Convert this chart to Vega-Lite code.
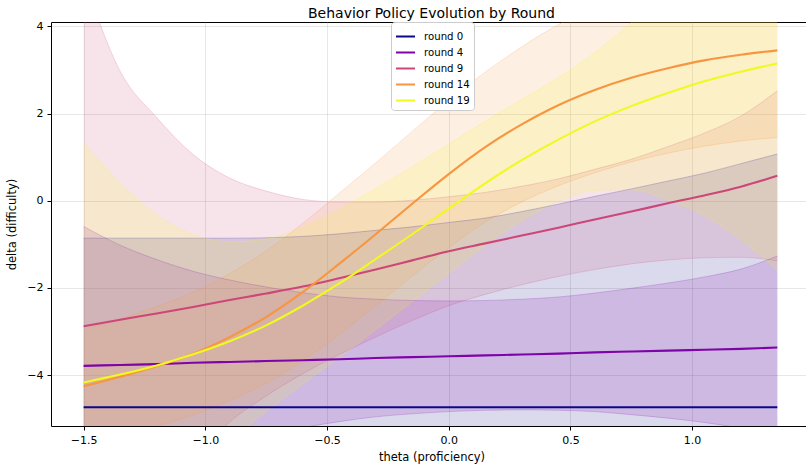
{
"$schema": "https://vega.github.io/schema/vega-lite/v6.json",
"width": 761, "height": 404,
"autosize": {"type": "none"},
"padding": {"left": 51, "top": 22, "right": 0, "bottom": 42},
"title": {"text": "Behavior Policy Evolution by Round", "fontSize": 14, "font": "DejaVu Sans", "fontWeight": "normal", "color": "black", "offset": -1, "anchor": "middle"},
"config": {
  "view": {"stroke": "black", "strokeWidth": 1},
  "font": "DejaVu Sans",
  "axis": {"labelFont": "DejaVu Sans", "titleFont": "DejaVu Sans", "labelFontSize": 11, "titleFontSize": 11.5, "titleFontWeight": "normal", "labelColor": "black", "titleColor": "black", "tickColor": "black", "tickSize": 4, "labelPadding": 4, "domain": false, "grid": true, "gridColor": "#b0b0b0", "gridOpacity": 0.3, "gridWidth": 1}
},
"data": {"values": [
{"theta":-1.5,"round":"round 0","mean":-4.74,"lo":-8.62,"hi":-0.86},
{"theta":-1.35,"round":"round 0","mean":-4.74,"lo":-8.62,"hi":-0.86},
{"theta":-1.2,"round":"round 0","mean":-4.74,"lo":-8.62,"hi":-0.86},
{"theta":-1.05,"round":"round 0","mean":-4.74,"lo":-8.62,"hi":-0.86},
{"theta":-0.9,"round":"round 0","mean":-4.74,"lo":-8.62,"hi":-0.86},
{"theta":-0.75,"round":"round 0","mean":-4.74,"lo":-8.63,"hi":-0.85},
{"theta":-0.6,"round":"round 0","mean":-4.74,"lo":-8.66,"hi":-0.82},
{"theta":-0.45,"round":"round 0","mean":-4.74,"lo":-8.72,"hi":-0.76},
{"theta":-0.3,"round":"round 0","mean":-4.74,"lo":-8.80,"hi":-0.68},
{"theta":-0.15,"round":"round 0","mean":-4.74,"lo":-8.88,"hi":-0.60},
{"theta":0,"round":"round 0","mean":-4.74,"lo":-8.98,"hi":-0.50},
{"theta":0.15,"round":"round 0","mean":-4.74,"lo":-9.08,"hi":-0.40},
{"theta":0.3,"round":"round 0","mean":-4.74,"lo":-9.23,"hi":-0.25},
{"theta":0.45,"round":"round 0","mean":-4.74,"lo":-9.40,"hi":-0.08},
{"theta":0.6,"round":"round 0","mean":-4.74,"lo":-9.58,"hi":0.10},
{"theta":0.75,"round":"round 0","mean":-4.74,"lo":-9.75,"hi":0.27},
{"theta":0.9,"round":"round 0","mean":-4.74,"lo":-9.93,"hi":0.45},
{"theta":1.05,"round":"round 0","mean":-4.74,"lo":-10.11,"hi":0.63},
{"theta":1.2,"round":"round 0","mean":-4.74,"lo":-10.33,"hi":0.85},
{"theta":1.35,"round":"round 0","mean":-4.74,"lo":-10.55,"hi":1.07},

{"theta":-1.5,"round":"round 4","mean":-3.79,"lo":-6.99,"hi":-0.59},
{"theta":-1.35,"round":"round 4","mean":-3.77,"lo":-6.52,"hi":-1.02},
{"theta":-1.2,"round":"round 4","mean":-3.75,"lo":-6.15,"hi":-1.35},
{"theta":-1.05,"round":"round 4","mean":-3.72,"lo":-5.82,"hi":-1.62},
{"theta":-0.9,"round":"round 4","mean":-3.70,"lo":-5.58,"hi":-1.82},
{"theta":-0.75,"round":"round 4","mean":-3.68,"lo":-5.38,"hi":-1.98},
{"theta":-0.6,"round":"round 4","mean":-3.66,"lo":-5.21,"hi":-2.11},
{"theta":-0.45,"round":"round 4","mean":-3.64,"lo":-5.07,"hi":-2.21},
{"theta":-0.3,"round":"round 4","mean":-3.61,"lo":-4.96,"hi":-2.26},
{"theta":-0.15,"round":"round 4","mean":-3.59,"lo":-4.89,"hi":-2.29},
{"theta":0,"round":"round 4","mean":-3.57,"lo":-4.84,"hi":-2.30},
{"theta":0.15,"round":"round 4","mean":-3.55,"lo":-4.81,"hi":-2.29},
{"theta":0.3,"round":"round 4","mean":-3.53,"lo":-4.80,"hi":-2.26},
{"theta":0.45,"round":"round 4","mean":-3.51,"lo":-4.81,"hi":-2.21},
{"theta":0.6,"round":"round 4","mean":-3.48,"lo":-4.84,"hi":-2.12},
{"theta":0.75,"round":"round 4","mean":-3.46,"lo":-4.91,"hi":-2.01},
{"theta":0.9,"round":"round 4","mean":-3.44,"lo":-4.99,"hi":-1.89},
{"theta":1.05,"round":"round 4","mean":-3.42,"lo":-5.09,"hi":-1.75},
{"theta":1.2,"round":"round 4","mean":-3.40,"lo":-5.23,"hi":-1.57},
{"theta":1.35,"round":"round 4","mean":-3.37,"lo":-5.47,"hi":-1.27},

{"theta":-1.5,"round":"round 9","mean":-2.88,"lo":-10.88,"hi":5.12},
{"theta":-1.35,"round":"round 9","mean":-2.73,"lo":-8.43,"hi":2.97},
{"theta":-1.2,"round":"round 9","mean":-2.59,"lo":-7.09,"hi":1.91},
{"theta":-1.05,"round":"round 9","mean":-2.44,"lo":-5.94,"hi":1.06},
{"theta":-0.9,"round":"round 9","mean":-2.28,"lo":-5.08,"hi":0.52},
{"theta":-0.75,"round":"round 9","mean":-2.13,"lo":-4.48,"hi":0.22},
{"theta":-0.6,"round":"round 9","mean":-1.97,"lo":-3.97,"hi":0.03},
{"theta":-0.45,"round":"round 9","mean":-1.78,"lo":-3.53,"hi":-0.03},
{"theta":-0.3,"round":"round 9","mean":-1.58,"lo":-3.13,"hi":-0.03},
{"theta":-0.15,"round":"round 9","mean":-1.37,"lo":-2.75,"hi":0.01},
{"theta":0,"round":"round 9","mean":-1.16,"lo":-2.41,"hi":0.09},
{"theta":0.15,"round":"round 9","mean":-0.98,"lo":-2.15,"hi":0.19},
{"theta":0.3,"round":"round 9","mean":-0.80,"lo":-1.93,"hi":0.33},
{"theta":0.45,"round":"round 9","mean":-0.62,"lo":-1.74,"hi":0.50},
{"theta":0.6,"round":"round 9","mean":-0.43,"lo":-1.58,"hi":0.72},
{"theta":0.75,"round":"round 9","mean":-0.25,"lo":-1.45,"hi":0.95},
{"theta":0.9,"round":"round 9","mean":-0.06,"lo":-1.36,"hi":1.24},
{"theta":1.05,"round":"round 9","mean":0.12,"lo":-1.31,"hi":1.55},
{"theta":1.2,"round":"round 9","mean":0.32,"lo":-1.30,"hi":1.94},
{"theta":1.35,"round":"round 9","mean":0.57,"lo":-1.38,"hi":2.52},

{"theta":-1.5,"round":"round 14","mean":-4.26,"lo":-5.56,"hi":-2.96},
{"theta":-1.35,"round":"round 14","mean":-4.04,"lo":-5.37,"hi":-2.71},
{"theta":-1.2,"round":"round 14","mean":-3.80,"lo":-5.17,"hi":-2.43},
{"theta":-1.05,"round":"round 14","mean":-3.51,"lo":-4.92,"hi":-2.10},
{"theta":-0.9,"round":"round 14","mean":-3.13,"lo":-4.59,"hi":-1.67},
{"theta":-0.75,"round":"round 14","mean":-2.67,"lo":-4.19,"hi":-1.15},
{"theta":-0.6,"round":"round 14","mean":-2.10,"lo":-3.68,"hi":-0.52},
{"theta":-0.45,"round":"round 14","mean":-1.45,"lo":-3.07,"hi":0.17},
{"theta":-0.3,"round":"round 14","mean":-0.77,"lo":-2.41,"hi":0.87},
{"theta":-0.15,"round":"round 14","mean":-0.07,"lo":-1.73,"hi":1.59},
{"theta":0,"round":"round 14","mean":0.61,"lo":-1.08,"hi":2.30},
{"theta":0.15,"round":"round 14","mean":1.23,"lo":-0.49,"hi":2.95},
{"theta":0.3,"round":"round 14","mean":1.75,"lo":-0.03,"hi":3.53},
{"theta":0.45,"round":"round 14","mean":2.19,"lo":0.34,"hi":4.04},
{"theta":0.6,"round":"round 14","mean":2.54,"lo":0.64,"hi":4.44},
{"theta":0.75,"round":"round 14","mean":2.82,"lo":0.89,"hi":4.75},
{"theta":0.9,"round":"round 14","mean":3.04,"lo":1.09,"hi":4.99},
{"theta":1.05,"round":"round 14","mean":3.22,"lo":1.25,"hi":5.19},
{"theta":1.2,"round":"round 14","mean":3.35,"lo":1.37,"hi":5.33},
{"theta":1.35,"round":"round 14","mean":3.45,"lo":1.45,"hi":5.45},

{"theta":-1.5,"round":"round 19","mean":-4.17,"lo":-9.66,"hi":1.32},
{"theta":-1.35,"round":"round 19","mean":-3.99,"lo":-8.39,"hi":0.41},
{"theta":-1.2,"round":"round 19","mean":-3.78,"lo":-7.23,"hi":-0.33},
{"theta":-1.05,"round":"round 19","mean":-3.525,"lo":-6.275,"hi":-0.775},
{"theta":-0.9,"round":"round 19","mean":-3.225,"lo":-5.505,"hi":-0.945},
{"theta":-0.75,"round":"round 19","mean":-2.86,"lo":-4.84,"hi":-0.88},
{"theta":-0.6,"round":"round 19","mean":-2.41,"lo":-4.21,"hi":-0.61},
{"theta":-0.45,"round":"round 19","mean":-1.90,"lo":-3.60,"hi":-0.20},
{"theta":-0.3,"round":"round 19","mean":-1.34,"lo":-2.96,"hi":0.28},
{"theta":-0.15,"round":"round 19","mean":-0.77,"lo":-2.32,"hi":0.78},
{"theta":0,"round":"round 19","mean":-0.18,"lo":-1.66,"hi":1.30},
{"theta":0.15,"round":"round 19","mean":0.40,"lo":-1.02,"hi":1.82},
{"theta":0.3,"round":"round 19","mean":0.93,"lo":-0.46,"hi":2.32},
{"theta":0.45,"round":"round 19","mean":1.40,"lo":-0.02,"hi":2.82},
{"theta":0.6,"round":"round 19","mean":1.82,"lo":0.24,"hi":3.40},
{"theta":0.75,"round":"round 19","mean":2.17,"lo":0.25,"hi":4.09},
{"theta":0.9,"round":"round 19","mean":2.47,"lo":0.02,"hi":4.92},
{"theta":1.05,"round":"round 19","mean":2.74,"lo":-0.34,"hi":5.82},
{"theta":1.2,"round":"round 19","mean":2.96,"lo":-0.89,"hi":6.81},
{"theta":1.35,"round":"round 19","mean":3.15,"lo":-1.60,"hi":7.90}
]},
"encoding": {
  "x": {"field": "theta", "type": "quantitative", "scale": {"domain": [-1.634, 1.4925], "nice": false, "zero": false},
        "axis": {"title": "theta (proficiency)", "values": [-1.5, -1, -0.5, 0, 0.5, 1], "format": ".1f", "titlePadding": 6}},
  "color": {"field": "round", "type": "nominal",
            "scale": {"domain": ["round 0", "round 4", "round 9", "round 14", "round 19"], "range": ["#0d0887", "#7e03a8", "#cc4778", "#f89540", "#f0f921"]},
            "legend": {"title": null, "orient": "none", "legendX": 340, "legendY": 0, "symbolType": "stroke", "symbolStrokeWidth": 2, "symbolSize": 361, "symbolOpacity": 1, "labelFontSize": 10.2, "labelFont": "DejaVu Sans", "labelColor": "black", "fillColor": "white", "strokeColor": "#cccccc", "padding": 4, "cornerRadius": 3, "rowPadding": -4, "labelOffset": 8}}
},
"layer": [
  {
    "mark": {"type": "area", "orient": "vertical", "interpolate": "monotone", "clip": true, "opacity": 0.15},
    "encoding": {
      "y": {"field": "lo", "type": "quantitative", "scale": {"domain": [-5.17, 4.1], "nice": false, "zero": false},
            "axis": {"title": "delta (difficulty)", "values": [-4, -2, 0, 2, 4], "format": "d", "titlePadding": 9}},
      "y2": {"field": "hi"}
    }
  },
  {
    "mark": {"type": "line", "interpolate": "monotone", "clip": true, "strokeWidth": 1, "opacity": 0.2},
    "encoding": {"y": {"field": "lo", "type": "quantitative"}}
  },
  {
    "mark": {"type": "line", "interpolate": "monotone", "clip": true, "strokeWidth": 1, "opacity": 0.2},
    "encoding": {"y": {"field": "hi", "type": "quantitative"}}
  },
  {
    "mark": {"type": "line", "interpolate": "monotone", "clip": true, "strokeWidth": 2.1},
    "encoding": {"y": {"field": "mean", "type": "quantitative"}}
  }
]
}
